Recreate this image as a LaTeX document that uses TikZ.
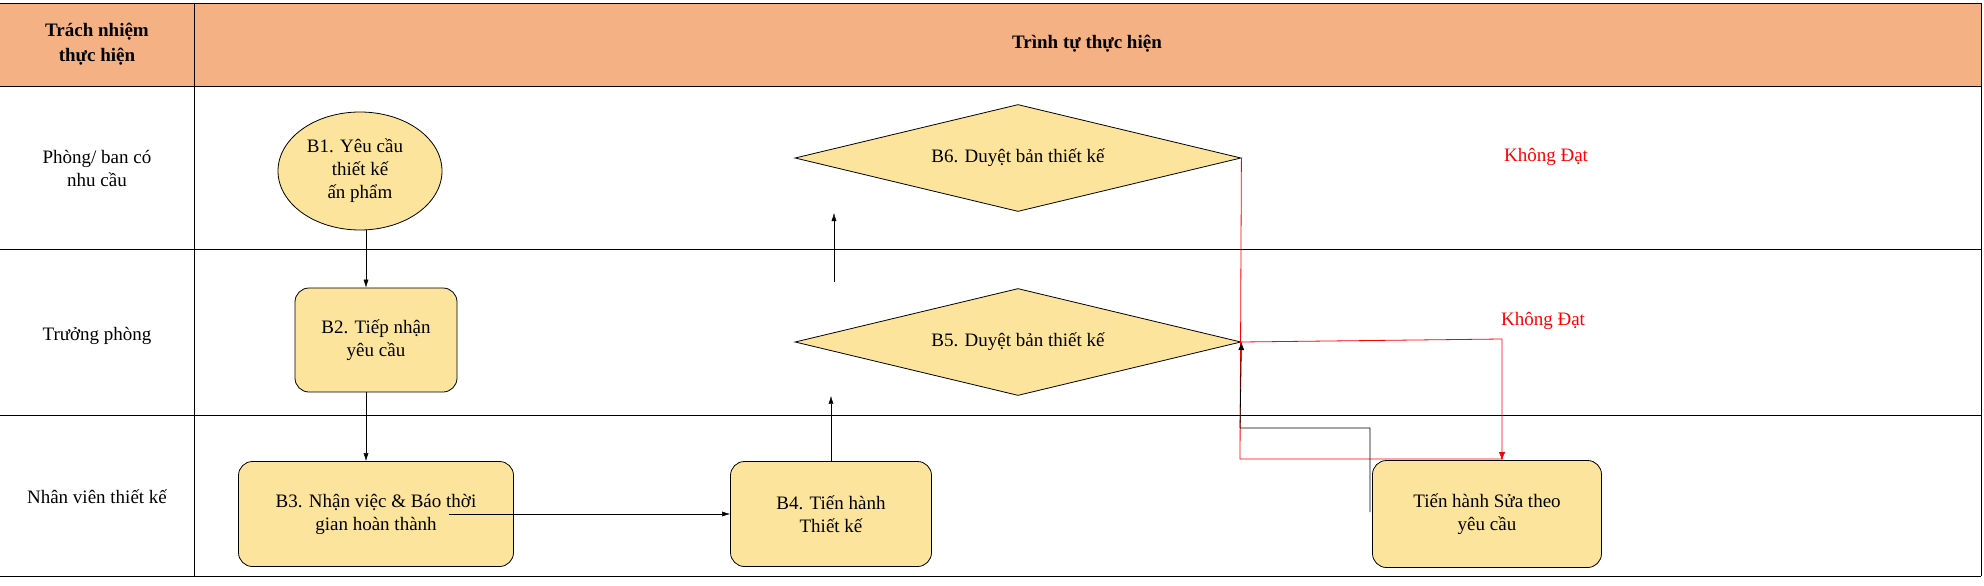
\documentclass[tikz,border=0pt]{standalone}
\usepackage{fontspec}
\setmainfont{Liberation Serif}
\usetikzlibrary{shapes.geometric,arrows.meta}
\definecolor{boxfill}{HTML}{FCE49C}
\definecolor{headfill}{HTML}{F4B183}
\begin{document}
\begin{tikzpicture}[x=1pt,y=-1pt,
  every node/.style={font=\fontsize{19}{23}\selectfont, align=center},
  stepbox/.style={draw, thick, fill=boxfill, rounded corners=14pt, inner sep=0pt},
  decis/.style={draw, thick, fill=boxfill, diamond, aspect=4.2, inner sep=0pt, minimum width=446pt, minimum height=107pt},
  conn/.style={-{Latex[length=8pt,width=5pt]}, thin},
  redc/.style={-{Latex[length=8pt,width=6pt]}, red, thick},
  lane/.style={thin}]
\useasboundingbox (0,0) rectangle (1984,586);
% table
\fill[headfill] (0,3) rectangle (1981,86);
\draw[lane] (0,3) -- (1981,3);
\draw[lane] (0,86) -- (1981,86);
\draw[lane] (0,249) -- (1981,249);
\draw[lane] (0,415) -- (1981,415);
\draw[lane] (0,576) -- (1981,576);
\draw[lane] (194,3) -- (194,576);
\draw[lane] (1981,3) -- (1981,576);
\node[font=\fontsize{19}{25}\selectfont\bfseries] (h1) at (97,44) {Trách nhiệm\\thực hiện};
\node[font=\fontsize{19}{25}\selectfont\bfseries] (h2) at (1087,44) {Trình tự thực hiện};
\node (l1) at (97,168) {Phòng/ ban có\\nhu cầu};
\node (l2) at (97,336) {Trưởng phòng};
\node (l3) at (97,497) {Nhân viên thiết kế};
% nodes
\node[draw, thick, fill=boxfill, ellipse, minimum width=164pt, minimum height=118pt, inner sep=0pt] (b1) at (360,171) {\hspace*{-10pt}B1. Yêu cầu\\thiết kế\\ấn phẩm};
\node[stepbox, minimum width=162pt, minimum height=104pt] (b2) at (376,340) {B2. Tiếp nhận\\yêu cầu};
\node[stepbox, minimum width=275pt, minimum height=105pt] (b3) at (376,514) {B3. Nhận việc \& Báo thời\\gian hoàn thành};
\node[stepbox, minimum width=201pt, minimum height=105pt] (b4) at (831,514) {B4. Tiến hành\\Thiết kế};
\node[decis] (b5) at (1018,342) {B5. Duyệt bản thiết kế};
\node[decis] (b6) at (1018,158) {B6. Duyệt bản thiết kế};
\node[stepbox, minimum width=229pt, minimum height=107pt] (b7) at (1487,514) {Tiến hành Sửa theo\\yêu cầu};
\node[red] (k1) at (1546,157) {Không Đạt};
\node[red] (k2) at (1543,321) {Không Đạt};
% connectors
\draw[conn] (b1.south -| 366,0) -- (b2.north -| 366,0);
\draw[conn] (b2.south -| 366,0) -- (b3.north -| 366,0);
\coordinate (s3) at (449,514);
\draw[conn] (s3) -- (b4.west);
\draw[conn] (b4.north) -- (b5.south -| b4.north);
\coordinate (g1) at (834,282);
\draw[conn] (g1) -- (834,213);
\draw[redc] (b6.east) -- (1240,459) -- (1502,459) -- (b7.north -| 1502,0);
\draw[redc] (b5.east) -- (1502,339) -- (b7.north -| 1502,0);
\draw[-{Latex[length=8pt,width=6pt]}, thick] (1370,512) -- (1370,428) -- (1240,428) -- (b5.east);
\end{tikzpicture}
\end{document}
